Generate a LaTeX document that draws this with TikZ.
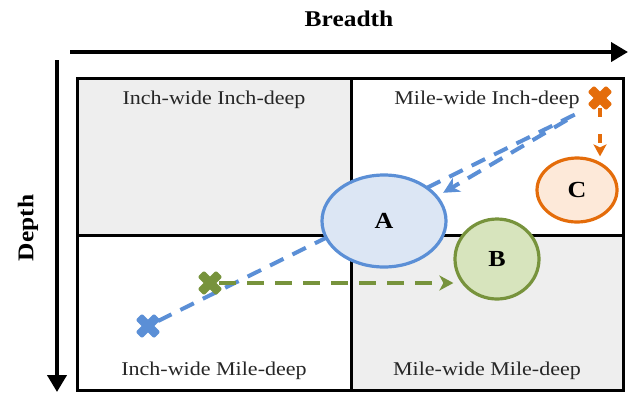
\documentclass[tikz,border=0pt]{standalone}
\usepackage{fontspec}
\setmainfont[FakeStretch=1.13]{Liberation Serif}
\usetikzlibrary{arrows.meta,calc,shapes.geometric}
\definecolor{cellgray}{HTML}{EEEEEE}
\definecolor{ablue}{HTML}{5B8FD6}
\definecolor{afill}{HTML}{DCE6F4}
\definecolor{bgreen}{HTML}{77933C}
\definecolor{bfill}{HTML}{D7E4BD}
\definecolor{corange}{HTML}{E46C0A}
\definecolor{cfill}{HTML}{FDE9D9}
\tikzset{
  axis/.style={line width=4pt, -{Triangle[length=17pt,width=19pt]}},
  frame/.style={line width=3pt},
  celltext/.style={font=\fontsize{19.5}{20}\selectfont, inner sep=0pt, text=black!85},
  axistext/.style={font=\fontsize{22.5}{23}\selectfont\bfseries, inner sep=0pt},
  blob/.style={ellipse, line width=3.2pt, font=\fontsize{23}{23}\selectfont\bfseries},
  xmark/.pic={
    \fill[rotate=45, rounded corners=2pt] (-13,-4.5) rectangle (13,4.5);
    \fill[rotate=-45, rounded corners=2pt] (-13,-4.5) rectangle (13,4.5);
  },
  bluedash/.style={ablue, line width=4pt, dash pattern=on 15pt off 10pt},
  greendash/.style={bgreen, line width=3.5pt, dash pattern=on 17pt off 11pt},
  orangedash/.style={corange, line width=3.5pt, dash pattern=on 9pt off 17pt},
}
\begin{document}
\begin{tikzpicture}[x=1pt, y=-1pt]
\useasboundingbox (0,0) rectangle (628,392);
% shaded quadrants
\fill[cellgray] (77,78) rectangle (351,235);
\fill[cellgray] (351,235) rectangle (623,390);
% quadrant frame
\draw[frame] (77,78) rectangle (623,390);
\draw[frame] (351,78) -- (351,390);
\draw[frame] (77,235) -- (623,235);
% axes
\coordinate (hx0) at (70,52);
\coordinate (hx1) at (628,52);
\coordinate (vy0) at (57,60);
\coordinate (vy1) at (57,392);
\draw[axis] (hx0) -- (hx1);
\draw[axis] (vy0) -- (vy1);
\node[axistext] (breadth) at (349,19) {Breadth};
\node[axistext, rotate=90] (depth) at (28,228) {Depth};
% quadrant labels
\node[celltext] (q1) at (214,100) {Inch-wide Inch-deep};
\node[celltext] (q2) at (487,100) {Mile-wide Inch-deep};
\node[celltext] (q3) at (214,371) {Inch-wide Mile-deep};
\node[celltext] (q4) at (487,371) {Mile-wide Mile-deep};
% starting points
\coordinate (bx) at (148,326);
\coordinate (gx) at (210,283);
\coordinate (ox) at (600,98);
\coordinate (bend) at (578,113);
\coordinate (back) at (567,120);
% blue path running under A
\draw[bluedash] (158,321) -- (bend);
% ellipses
\node[blob, draw=ablue, fill=afill, minimum width=124pt, minimum height=92pt] (A) at (384,221) {A};
\node[blob, draw=bgreen, fill=bfill, minimum width=84pt, minimum height=80pt] (B) at (497,259) {B};
\node[blob, draw=corange, fill=cfill, minimum width=80pt, minimum height=64pt] (C) at (577,190) {C};
% arrows
\draw[bluedash, -{Stealth[length=16pt,width=16pt,inset=5pt]}, shorten >=6pt] (back) -- (A.25);
\draw[greendash, -{Stealth[length=14pt,width=15pt,inset=4pt]}] ($(gx)+(9,0)$) -- (gx -| B.west);
\draw[orangedash, -{Stealth[length=12pt,width=13pt,inset=3pt]}] ($(ox)+(0,10)$) -- (ox |- C.north);
% markers
\pic[ablue] at (bx) {xmark};
\pic[bgreen] at (gx) {xmark};
\pic[corange] at (ox) {xmark};
\end{tikzpicture}
\end{document}
